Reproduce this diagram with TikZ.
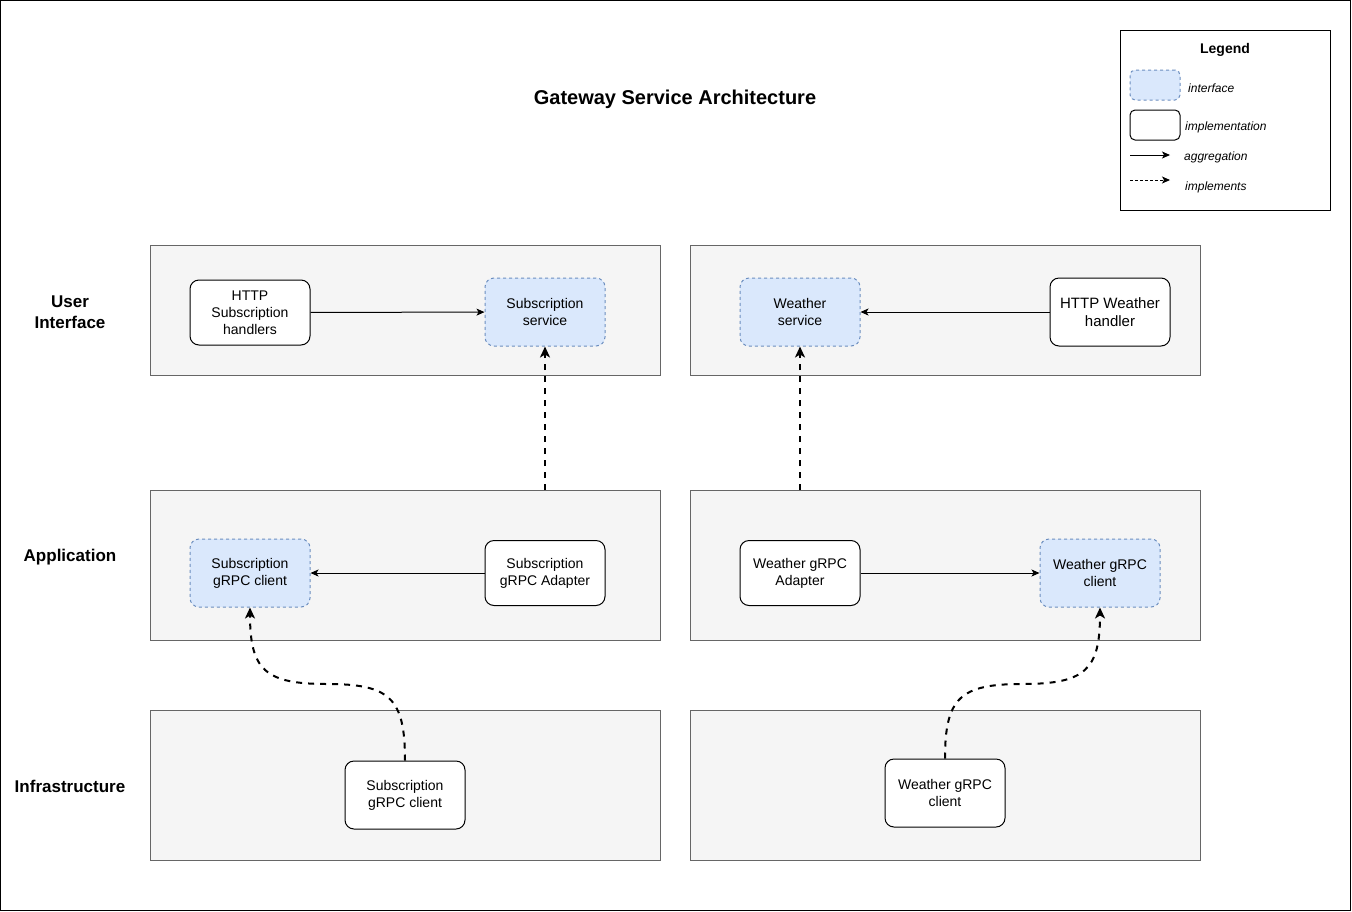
\documentclass[tikz,border=0pt]{standalone}
\usepackage{fontspec}
\setmainfont{Liberation Sans}
\usetikzlibrary{arrows.meta}
\definecolor{ifacefill}{HTML}{DAE8FC}
\definecolor{ifaceline}{HTML}{6C8EBF}
\definecolor{layerfill}{HTML}{F5F5F5}
\definecolor{layerline}{HTML}{666666}
\begin{document}
\begin{tikzpicture}[x=1pt,y=-1pt,
    layer/.style={draw=layerline,fill=layerfill,line width=1pt,inner sep=0pt,
      anchor=north west,minimum width=510pt},
    impl/.style={draw,line width=1pt,fill=white,rounded corners=9pt,align=center,
      minimum width=120pt,minimum height=65pt,inner sep=2pt,font=\fontsize{14}{17}\selectfont},
    iface/.style={impl,draw=ifaceline,fill=ifacefill,dashed,dash pattern=on 3pt off 3pt,
      minimum height=68pt},
    lbl/.style={align=center,font=\fontsize{17}{21}\selectfont\bfseries},
    legtxt/.style={anchor=west,inner sep=0pt,font=\fontsize{12}{14}\selectfont\itshape},
    agg/.style={line width=1pt,-{Stealth[length=8pt,width=7pt,inset=2pt]}},
    impls/.style={line width=2pt,dash pattern=on 6pt off 6pt,
      -{Stealth[length=11pt,width=10pt,inset=3pt]}}]
  \useasboundingbox (0,0) rectangle (1352,911);
  \draw[line width=1pt] (0.5,0.5) rectangle (1350.5,910.5);

  \node[font=\fontsize{20}{24}\selectfont\bfseries] (title) at (675,99) {Gateway Service Architecture};

  % legend
  \node[draw,line width=1pt,anchor=north west,minimum width=210pt,minimum height=180pt,inner sep=0pt] (legend) at (1120,30) {};
  \node[font=\fontsize{14}{17}\selectfont\bfseries] (legtitle) at (1225,50) {Legend};
  \node[iface,minimum width=50pt,minimum height=30pt,rounded corners=5pt] (legif) at (1155,85) {};
  \node[legtxt] (legiftxt) at (1188,88) {interface};
  \node[impl,minimum width=50pt,minimum height=30pt,rounded corners=5pt] (legimpl) at (1155,125) {};
  \node[legtxt] (legimpltxt) at (1185,127) {implementation};
  \coordinate (legagga) at (1130,155);
  \coordinate (legaggb) at (1170,155);
  \draw[agg] (legagga) -- (legaggb);
  \node[legtxt] (legaggtxt) at (1184,157) {aggregation};
  \coordinate (legimpa) at (1130,180);
  \coordinate (legimpb) at (1170,180);
  \draw[line width=1pt,dash pattern=on 3pt off 2pt,-{Stealth[length=8pt,width=7pt,inset=2pt]}] (legimpa) -- (legimpb);
  \node[legtxt] (legimptxt) at (1185,187) {implements};

  % layers
  \node[layer,minimum height=130pt] (uileft) at (150,245) {};
  \node[layer,minimum height=130pt] (uiright) at (690,245) {};
  \node[layer,minimum height=150pt] (appleft) at (150,490) {};
  \node[layer,minimum height=150pt] (appright) at (690,490) {};
  \node[layer,minimum height=150pt] (infleft) at (150,710) {};
  \node[layer,minimum height=150pt] (infright) at (690,710) {};

  \node[lbl] (uilbl) at (70,312) {User\\Interface};
  \node[lbl] (applbl) at (70,557) {Application};
  \node[lbl] (inflbl) at (70,786) {Infrastructure};

  % user interface
  \node[impl] (httpsub) at (250,312.5) {HTTP\\Subscription\\handlers};
  \node[iface] (subsvc) at (545,312) {Subscription\\service};
  \node[iface] (wthsvc) at (800,312) {Weather\\service};
  \node[impl,minimum height=68pt,font=\fontsize{15}{18}\selectfont] (httpwth) at (1110,312) {HTTP Weather\\handler};

  % application
  \node[iface] (subcliif) at (250,573) {Subscription\\gRPC client};
  \node[impl] (subadp) at (545,573) {Subscription\\gRPC Adapter};
  \node[impl] (wthadp) at (800,573) {Weather gRPC\\Adapter};
  \node[iface] (wthcliif) at (1100,573) {Weather gRPC\\client};

  % infrastructure
  \node[impl,minimum height=68pt] (subcli) at (405,795) {Subscription\\gRPC client};
  \node[impl,minimum height=68pt] (wthcli) at (945,793) {Weather gRPC\\client};

  \draw[agg] (httpsub) -- (subsvc);
  \draw[agg] (httpwth) -- (wthsvc);
  \draw[agg] (subadp) -- (subcliif);
  \draw[agg] (wthadp) -- (wthcliif);

  \draw[impls] (subsvc |- appleft.north) -- (subsvc.south);
  \draw[impls] (wthsvc |- appright.north) -- (wthsvc.south);
  \draw[impls] (subcli.north) .. controls (405,698) and (390,684) .. (327,684)
    .. controls (265,684) and (250,670) .. (subcliif.south);
  \draw[impls] (wthcli.north) .. controls (945,698) and (960,684) .. (1022,684)
    .. controls (1085,684) and (1100,670) .. (wthcliif.south);
\end{tikzpicture}
\end{document}
